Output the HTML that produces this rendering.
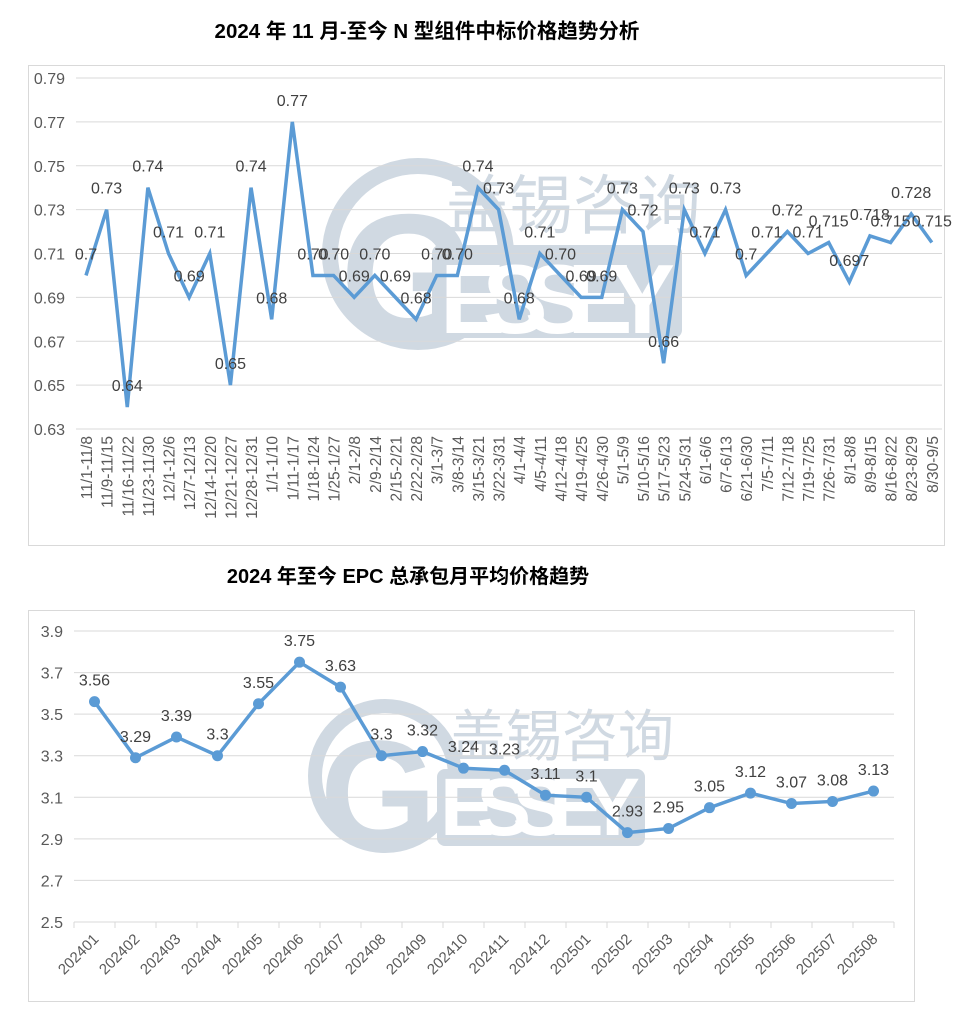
<!DOCTYPE html>
<html><head><meta charset="utf-8">
<style>
body{margin:0;background:#fff;width:955px;height:1010px;overflow:hidden;font-family:"Liberation Sans","Noto Sans CJK SC",sans-serif;}
svg{position:absolute;left:0;top:0}
</style></head><body>
<svg id="s" width="955" height="1010" xmlns="http://www.w3.org/2000/svg" font-family="Liberation Sans, Noto Sans CJK SC, sans-serif">
<text x="427" y="38" text-anchor="middle" font-size="20.5" font-weight="bold" fill="#000">2024 年 11 月-至今 N 型组件中标价格趋势分析</text>
<text x="408" y="583" text-anchor="middle" font-size="20" font-weight="bold" fill="#000">2024 年至今 EPC 总承包月平均价格趋势</text>
<rect x="28.5" y="65.5" width="916" height="480" fill="none" stroke="#d9d9d9"/>
<rect x="28.5" y="610.5" width="886" height="391" fill="none" stroke="#d9d9d9"/>
<g fill="#d0d9e2">
<circle cx="418" cy="254" r="88" fill="none" stroke="#d0d9e2" stroke-width="16"/>
<text x="445" y="228" font-size="64" fill="#d0d9e2">盖锡咨询</text>
<rect x="432" y="245" width="250" height="93" rx="8"/>
<text x="340" y="336" font-size="175" font-weight="bold" fill="#d0d9e2">G</text>
<text x="440" y="333" font-size="98" font-weight="bold" fill="#fff" textLength="235">ESSEY</text>
</g>
<g fill="#d0d9e2">
<circle cx="385" cy="776" r="70" fill="none" stroke="#d0d9e2" stroke-width="14"/>
<text x="450" y="756" font-size="56" fill="#d0d9e2">盖锡咨询</text>
<rect x="437" y="769" width="208" height="77" rx="8"/>
<text x="320" y="845" font-size="150" font-weight="bold" fill="#d0d9e2">G</text>
<text x="440" y="835" font-size="82" font-weight="bold" fill="#fff" textLength="200">ESSEY</text>
</g>
<g id="c1"></g><g id="c2"></g>
</svg>
<script>
var NS="http://www.w3.org/2000/svg";
function el(p,t,a,txt){var e=document.createElementNS(NS,t);for(var k in a)e.setAttribute(k,a[k]);if(txt!=null)e.textContent=txt;p.appendChild(e);return e;}
var g=document.getElementById('c1');
var cats=["11/1-11/8","11/9-11/15","11/16-11/22","11/23-11/30","12/1-12/6","12/7-12/13","12/14-12/20","12/21-12/27","12/28-12/31","1/1-1/10","1/11-1/17","1/18-1/24","1/25-1/27","2/1-2/8","2/9-2/14","2/15-2/21","2/22-2/28","3/1-3/7","3/8-3/14","3/15-3/21","3/22-3/31","4/1-4/4","4/5-4/11","4/12-4/18","4/19-4/25","4/26-4/30","5/1-5/9","5/10-5/16","5/17-5/23","5/24-5/31","6/1-6/6","6/7-6/13","6/21-6/30","7/5-7/11","7/12-7/18","7/19-7/25","7/26-7/31","8/1-8/8","8/9-8/15","8/16-8/22","8/23-8/29","8/30-9/5"];
var vals=[0.70,0.73,0.64,0.74,0.71,0.69,0.71,0.65,0.74,0.68,0.77,0.70,0.70,0.69,0.70,0.69,0.68,0.70,0.70,0.74,0.73,0.68,0.71,0.70,0.69,0.69,0.73,0.72,0.66,0.73,0.71,0.73,0.70,0.71,0.72,0.71,0.715,0.697,0.718,0.715,0.728,0.715];
var labs=["0.7","0.73","0.64","0.74","0.71","0.69","0.71","0.65","0.74","0.68","0.77","0.70","0.70","0.69","0.70","0.69","0.68","0.70","0.70","0.74","0.73","0.68","0.71","0.70","0.69","0.69","0.73","0.72","0.66","0.73","0.71","0.73","0.7","0.71","0.72","0.71","0.715","0.697","0.718","0.715","0.728","0.715"];
function y1(v){return 429-(v-0.63)/0.16*351;}
function x1(i){return 86+i*20.63;}
for(var k=0;k<=8;k++){var v=0.63+k*0.02,y=y1(v);el(g,'line',{x1:76,x2:942,y1:y,y2:y,stroke:'#d9d9d9','stroke-width':1});el(g,'text',{x:65,y:y+6,'text-anchor':'end','font-size':16,fill:'#595959'},v.toFixed(2));}
el(g,'polyline',{points:vals.map(function(v,i){return x1(i)+','+y1(v)}).join(' '),fill:'none',stroke:'#5b9bd5','stroke-width':3.5});
vals.forEach(function(v,i){var x=x1(i),y=y1(v);el(g,'text',{x:x,y:y-16,'text-anchor':'middle','font-size':16,fill:'#404040'},labs[i]);
el(g,'text',{x:0,y:0,'text-anchor':'end','font-size':15.5,fill:'#595959',transform:'translate('+(x+6)+',436) rotate(-90)'},cats[i]);});
var h=document.getElementById('c2');
var v2=[3.56,3.29,3.39,3.3,3.55,3.75,3.63,3.3,3.32,3.24,3.23,3.11,3.1,2.93,2.95,3.05,3.12,3.07,3.08,3.13];
var l2=["3.56","3.29","3.39","3.3","3.55","3.75","3.63","3.3","3.32","3.24","3.23","3.11","3.1","2.93","2.95","3.05","3.12","3.07","3.08","3.13"];
var c2=["202401","202402","202403","202404","202405","202406","202407","202408","202409","202410","202411","202412","202501","202502","202503","202504","202505","202506","202507","202508"];
function y2(v){return 922-(v-2.5)/1.4*291;}
function x2(i){return 74+41*(i+0.5);}
for(var k=0;k<=7;k++){var v=2.5+k*0.2,y=y2(v);el(h,'line',{x1:74,x2:894,y1:y,y2:y,stroke:'#d9d9d9'});el(h,'text',{x:63,y:y+6,'text-anchor':'end','font-size':16,fill:'#595959'},(Math.round(v*10)/10).toString());}
for(var i=0;i<=20;i++){var x=74+41*i;el(h,'line',{x1:x,x2:x,y1:922,y2:928,stroke:'#d9d9d9'});}
el(h,'polyline',{points:v2.map(function(v,i){return x2(i)+','+y2(v)}).join(' '),fill:'none',stroke:'#5b9bd5','stroke-width':3.5});
v2.forEach(function(v,i){var x=x2(i),y=y2(v);el(h,'circle',{cx:x,cy:y,r:5.5,fill:'#5b9bd5'});
el(h,'text',{x:x,y:y-16,'text-anchor':'middle','font-size':16,fill:'#404040'},l2[i]);
el(h,'text',{x:0,y:0,'text-anchor':'end','font-size':15,fill:'#595959',transform:'translate('+(x+5)+',940) rotate(-45)'},c2[i]);});
</script>
</body></html>
